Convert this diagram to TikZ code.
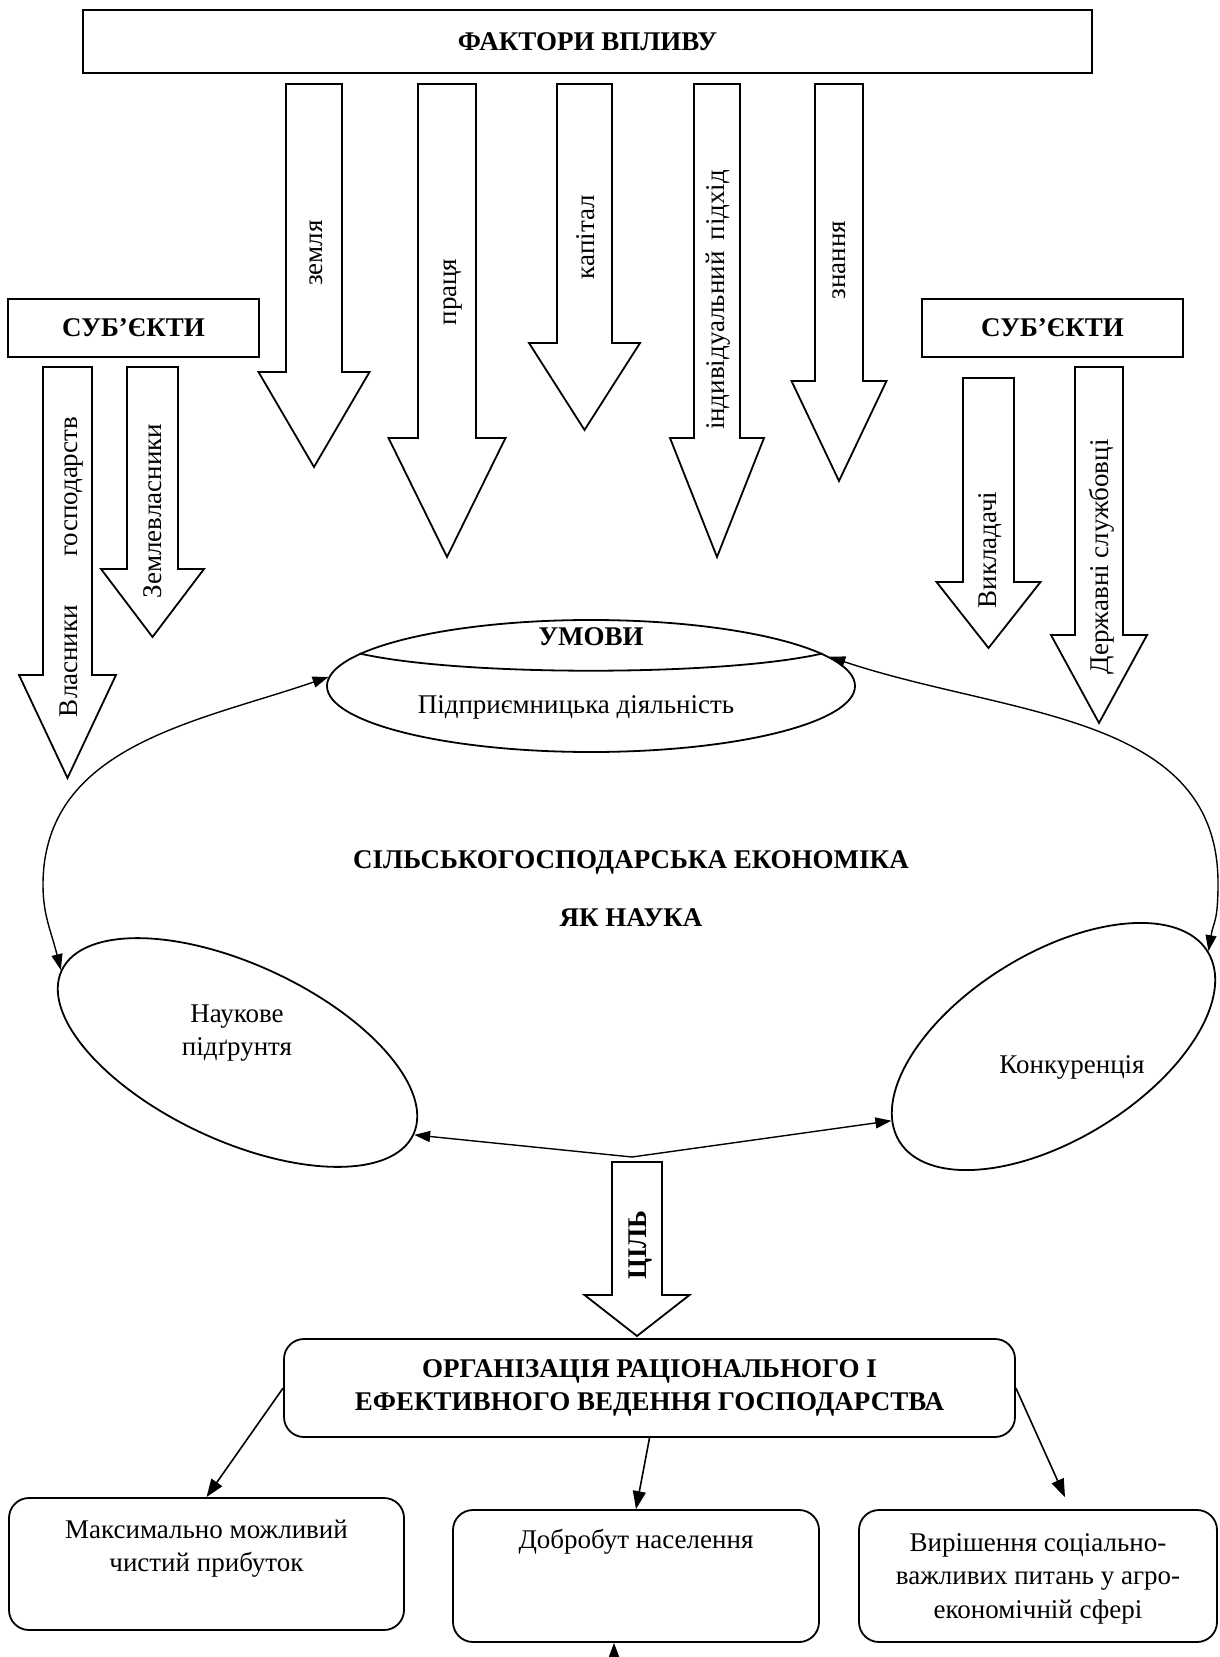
\documentclass[tikz,border=0pt]{standalone}
\usepackage{fontspec}
\setmainfont{Liberation Serif}
\usetikzlibrary{shapes.geometric,arrows.meta,positioning}

% centre x, top y, half shaft, head y, half head, tip y
\newcommand{\blockarrow}[6]{%
  \draw[arrowshape] (#1-#3,#2) -- (#1+#3,#2) -- (#1+#3,#4) -- (#1+#5,#4)
    -- (#1,#6) -- (#1-#5,#4) -- (#1-#3,#4) -- cycle;}

\begin{document}
\begin{tikzpicture}[x=0.5pt,y=-0.5pt,
  every node/.style={font=\fontsize{13.5}{16.75}\selectfont, inner sep=0pt},
  boldnode/.style={font=\fontsize{13.5}{16.75}\selectfont\bfseries},
  headbox/.style={draw, line width=0.9pt, boldnode},
  arrowshape/.style={draw, line width=0.9pt, line join=miter},
  vlabel/.style={rotate=90},
  ovalnode/.style={draw, ellipse, line width=0.9pt},
  goalbox/.style={draw, rounded corners=10pt, line width=0.9pt},
  linkarrow/.style={line width=0.8pt, -{Triangle[length=9pt,width=6.5pt]}},
  twoway/.style={line width=0.7pt, {Triangle[length=8pt,width=5.5pt]}-{Triangle[length=8pt,width=5.5pt]}}]
\useasboundingbox (0,0) rectangle (1219,1657);

% factors
\node[headbox, minimum width=504.5pt, minimum height=31.5pt] (factors) at (587.5,41.5) {ФАКТОРИ ВПЛИВУ};

\blockarrow{314}{84}{28}{372}{55.5}{467}
\node[vlabel] (land) at (316,253) {земля};
\blockarrow{447}{84}{29}{438}{58.5}{557}
\node[vlabel] (labour) at (453,292) {праця};
\blockarrow{584.5}{84}{27.5}{343}{55.5}{430}
\node[vlabel] (capital) at (586,237) {капітал};
\blockarrow{717}{84}{23}{438}{47}{557}
\node[vlabel] (approach) at (718,300) {\makebox[130pt][s]{індивідуальний підхід}};
\blockarrow{839}{84}{24}{381}{47.5}{481}
\node[vlabel] (knowledge) at (839,260) {знання};

% subjects
\node[headbox, minimum width=125.5pt, minimum height=29pt] (subjl) at (133.5,328) {СУБ’ЄКТИ};
\node[headbox, minimum width=130.5pt, minimum height=29pt] (subjr) at (1052.5,328) {СУБ’ЄКТИ};

\blockarrow{67.5}{367}{24.5}{675}{48.5}{778}
\node[vlabel] (owners) at (72,567) {\makebox[150pt][s]{Власники господарств}};
\blockarrow{152.5}{367}{25.5}{569}{51.5}{637}
\node[vlabel] (landowners) at (153,511) {Землевласники};
\blockarrow{988.5}{378}{25.5}{582}{52}{648}
\node[vlabel] (teachers) at (990,550) {Викладачі};
\blockarrow{1099}{367}{24}{635}{48}{723}
\node[vlabel] (officials) at (1102,557) {Державні службовці};

% conditions
\node[ovalnode, minimum width=264pt, minimum height=66pt] (umovy) at (591,686) {};
\draw[line width=0.9pt] (umovy.172) .. controls +(100,23) and +(-100,23) .. (umovy.8);
\node[boldnode] (umovytitle) at (591,637) {УМОВИ};
\node (umovytext) at (576,707) {Підприємницька діяльність};

\node[boldnode, align=center] (science) at (631,889) {СІЛЬСЬКОГОСПОДАРСЬКА ЕКОНОМІКА\\[12.25pt]ЯК НАУКА};

\node[ovalnode, minimum width=194pt, minimum height=88pt, rotate=-25] (nauk) at (237.5,1052.5) {};
\node[align=center] (nauktext) at (237,1033) {Наукове\\підґрунтя};
\node[ovalnode, minimum width=181pt, minimum height=93pt, rotate=31.6] (kon) at (1053.5,1046.5) {};
\node (kontext) at (1072,1067) {Конкуренція};

% loops between the ovals
\coordinate (lbend) at (43,885);
\coordinate (rbend) at (1218,883);
\coordinate (bot) at (632,1157);
\draw[twoway] (nauk.180) .. controls +(-10,-40) and +(0,30) .. (lbend)
  .. controls +(0,-140) and +(-130,45) .. (umovy.178);
\draw[twoway] (umovy.7) .. controls +(180,60) and +(0,-170) .. (rbend)
  .. controls +(0,40) and +(5,-30) .. (kon.0);
\draw[twoway] (nauk.0) -- (bot) -- (kon.173);

% goal
\blockarrow{637}{1162}{25}{1295}{52.5}{1336}
\node[boldnode, vlabel] (goal) at (641,1245) {ЦІЛЬ};

\node[goalbox, boldnode, align=center, minimum width=365.5pt, minimum height=49pt] (org) at (649.5,1388) {ОРГАНІЗАЦІЯ РАЦІОНАЛЬНОГО І\\ЕФЕКТИВНОГО ВЕДЕННЯ ГОСПОДАРСТВА};

\node[goalbox, minimum width=197.5pt, minimum height=66pt] (profit) at (206.5,1564) {};
\node[align=center, below=11pt of profit.north] (profittext) {Максимально можливий\\чистий прибуток};
\node[goalbox, minimum width=183pt, minimum height=66pt] (welfare) at (636,1576) {};
\node[below=10pt of welfare.north] (welfaretext) {Добробут населення};
\node[goalbox, minimum width=179pt, minimum height=66pt] (social) at (1038,1576) {};
\node[align=center, below=12pt of social.north] (socialtext) {Вирішення соціально-\\важливих питань у агро-\\економічній сфері};

\draw[linkarrow] (org.west) -- (profit.north);
\draw[linkarrow] (org.south) -- (welfare.north);
\draw[linkarrow] (org.east) -- ([xshift=13.5pt,yshift=6pt]social.north);
\coordinate (offpage) at (614,1720);
\draw[linkarrow] (offpage) -- ([xshift=-11pt]welfare.south);

\end{tikzpicture}
\end{document}
